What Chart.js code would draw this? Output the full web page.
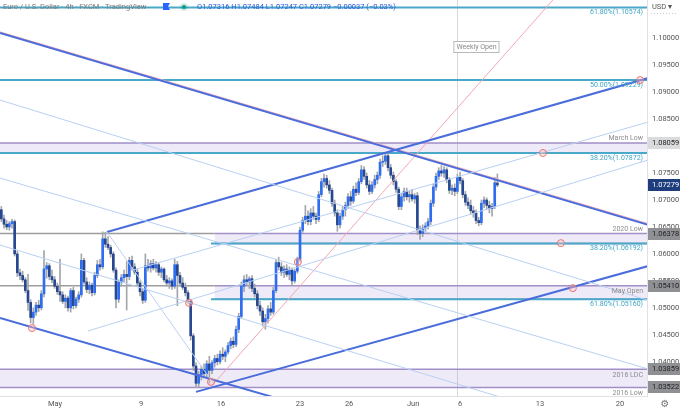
<!DOCTYPE html>
<html>
<head>
<meta charset="utf-8">
<script src="https://cdn.jsdelivr.net/npm/chart.js@4.4.0/dist/chart.umd.min.js"></script>
<style>
  html, body { margin: 0; padding: 0; background: #fff; }
  #wrap { width: 680px; height: 412px; position: relative; }
</style>
</head>
<body>
<div id="wrap"><canvas id="chart" width="680" height="412"></canvas></div>
<script>
// EUR/USD 4h candles (bar index = one 4h candle)
const opens = [
  1.0682, 1.0665, 1.0655, 1.0650, 1.0656, 1.0660, 1.0600, 1.0565, 1.0560, 1.0552,
  1.0532, 1.0510, 1.0482, 1.0492, 1.0505, 1.0500, 1.0526, 1.0572, 1.0578, 1.0558,
  1.0552, 1.0540, 1.0530, 1.0524, 1.0512, 1.0518, 1.0500, 1.0532, 1.0504, 1.0516,
  1.0524, 1.0588, 1.0548, 1.0534, 1.0542, 1.0528, 1.0560, 1.0580, 1.0576, 1.0628,
  1.0618, 1.0612, 1.0600, 1.0570, 1.0516, 1.0548, 1.0556, 1.0562, 1.0558, 1.0588,
  1.0576, 1.0566, 1.0546, 1.0530, 1.0514, 1.0578, 1.0574, 1.0582, 1.0574, 1.0580,
  1.0566, 1.0572, 1.0552, 1.0546, 1.0550, 1.0540, 1.0580, 1.0560, 1.0546, 1.0538,
  1.0528, 1.0512, 1.0448, 1.0392, 1.0360, 1.0376, 1.0386, 1.0378, 1.0396, 1.0384,
  1.0398, 1.0406, 1.0400, 1.0414, 1.0410, 1.0418, 1.0430, 1.0438, 1.0432, 1.0460,
  1.0484, 1.0540, 1.0552, 1.0548, 1.0554, 1.0536, 1.0526, 1.0504, 1.0494, 1.0474,
  1.0480, 1.0498, 1.0492, 1.0532, 1.0584, 1.0576, 1.0566, 1.0572, 1.0562, 1.0570,
  1.0550, 1.0568, 1.0590, 1.0644, 1.0662, 1.0670, 1.0660, 1.0676, 1.0670, 1.0664,
  1.0710, 1.0734, 1.0740, 1.0728, 1.0718, 1.0694, 1.0676, 1.0654, 1.0670, 1.0682,
  1.0690, 1.0706, 1.0698, 1.0720, 1.0714, 1.0734, 1.0756, 1.0744, 1.0728, 1.0716,
  1.0728, 1.0738, 1.0746, 1.0770, 1.0772, 1.0782, 1.0760, 1.0746, 1.0734, 1.0720,
  1.0688, 1.0706, 1.0716, 1.0706, 1.0710, 1.0702, 1.0708, 1.0644, 1.0638, 1.0648,
  1.0652, 1.0660, 1.0694, 1.0724, 1.0744, 1.0754, 1.0750, 1.0756, 1.0738, 1.0718,
  1.0722, 1.0716, 1.0742, 1.0736, 1.0710, 1.0696, 1.0690, 1.0680, 1.0676, 1.0662,
  1.0658, 1.0694, 1.0700, 1.0690, 1.0684, 1.0688, 1.07316
];
const highs = [
  1.0688, 1.0672, 1.0662, 1.0660, 1.0664, 1.0663, 1.0605, 1.0572, 1.0568, 1.0556,
  1.0562, 1.0515, 1.0500, 1.0510, 1.0514, 1.0532, 1.0606, 1.0584, 1.0582, 1.0570,
  1.0558, 1.0546, 1.0590, 1.0530, 1.0524, 1.0522, 1.0536, 1.0538, 1.0520, 1.0530,
  1.0600, 1.0592, 1.0556, 1.0548, 1.0546, 1.0566, 1.0588, 1.0590, 1.0641, 1.0640,
  1.0632, 1.0616, 1.0604, 1.0574, 1.0552, 1.0562, 1.0570, 1.0586, 1.0594, 1.0596,
  1.0582, 1.0572, 1.0550, 1.0536, 1.0600, 1.0590, 1.0588, 1.0590, 1.0586, 1.0584,
  1.0576, 1.0574, 1.0560, 1.0556, 1.0554, 1.0590, 1.0586, 1.0566, 1.0556, 1.0546,
  1.0532, 1.0516, 1.0452, 1.0398, 1.0382, 1.0392, 1.0396, 1.0402, 1.0410, 1.0402,
  1.0412, 1.0414, 1.0420, 1.0426, 1.0422, 1.0436, 1.0444, 1.0446, 1.0466, 1.0490,
  1.0548, 1.0560, 1.0562, 1.0558, 1.0560, 1.0544, 1.0532, 1.0512, 1.0500, 1.0488,
  1.0504, 1.0510, 1.0538, 1.0590, 1.0594, 1.0584, 1.0578, 1.0580, 1.0576, 1.0574,
  1.0572, 1.0594, 1.0650, 1.0668, 1.0690, 1.0680, 1.0684, 1.0688, 1.0676, 1.0716,
  1.0740, 1.0748, 1.0746, 1.0736, 1.0722, 1.0700, 1.0682, 1.0676, 1.0688, 1.0696,
  1.0712, 1.0716, 1.0726, 1.0732, 1.0740, 1.0764, 1.0762, 1.0750, 1.0736, 1.0734,
  1.0746, 1.0752, 1.0776, 1.0782, 1.0788, 1.0789, 1.0766, 1.0752, 1.0738, 1.0724,
  1.0712, 1.0722, 1.0722, 1.0716, 1.0720, 1.0712, 1.0714, 1.0652, 1.0654, 1.0658,
  1.0666, 1.0700, 1.0730, 1.0750, 1.0760, 1.0764, 1.0762, 1.0760, 1.0742, 1.0728,
  1.0730, 1.0748, 1.0752, 1.0740, 1.0716, 1.0704, 1.0700, 1.0688, 1.0682, 1.0668,
  1.0700, 1.0706, 1.0704, 1.0698, 1.0694, 1.0742, 1.07484
];
const lows = [
  1.0660, 1.0648, 1.0645, 1.0644, 1.0648, 1.0596, 1.0558, 1.0552, 1.0548, 1.0528,
  1.0495, 1.0472, 1.0470, 1.0486, 1.0493, 1.0496, 1.0520, 1.0555, 1.0552, 1.0546,
  1.0536, 1.0525, 1.0512, 1.0508, 1.0500, 1.0494, 1.0492, 1.0498, 1.0500, 1.0510,
  1.0520, 1.0544, 1.0528, 1.0526, 1.0522, 1.0524, 1.0556, 1.0570, 1.0572, 1.0612,
  1.0608, 1.0594, 1.0566, 1.0500, 1.0510, 1.0540, 1.0548, 1.0496, 1.0552, 1.0570,
  1.0562, 1.0540, 1.0522, 1.0508, 1.0510, 1.0568, 1.0566, 1.0570, 1.0566, 1.0560,
  1.0556, 1.0548, 1.0540, 1.0536, 1.0534, 1.0536, 1.0504, 1.0540, 1.0534, 1.0522,
  1.0508, 1.0440, 1.0384, 1.0352, 1.0354, 1.0366, 1.0370, 1.0372, 1.0360, 1.0378,
  1.0390, 1.0394, 1.0396, 1.0404, 1.0400, 1.0414, 1.0424, 1.0426, 1.0428, 1.0454,
  1.0480, 1.0530, 1.0542, 1.0536, 1.0530, 1.0520, 1.0498, 1.0486, 1.0466, 1.0460,
  1.0472, 1.0486, 1.0488, 1.0528, 1.0570, 1.0560, 1.0556, 1.0558, 1.0552, 1.0542,
  1.0546, 1.0564, 1.0586, 1.0640, 1.0656, 1.0654, 1.0654, 1.0664, 1.0656, 1.0660,
  1.0706, 1.0724, 1.0722, 1.0712, 1.0688, 1.0670, 1.0642, 1.0648, 1.0664, 1.0670,
  1.0684, 1.0690, 1.0694, 1.0708, 1.0710, 1.0730, 1.0738, 1.0722, 1.0710, 1.0712,
  1.0722, 1.0730, 1.0740, 1.0762, 1.0766, 1.0754, 1.0740, 1.0728, 1.0714, 1.0682,
  1.0682, 1.0698, 1.0700, 1.0696, 1.0698, 1.0694, 1.0636, 1.0627, 1.0632, 1.0640,
  1.0646, 1.0654, 1.0688, 1.0718, 1.0738, 1.0744, 1.0742, 1.0732, 1.0712, 1.0710,
  1.0708, 1.0712, 1.0730, 1.0704, 1.0690, 1.0684, 1.0674, 1.0668, 1.0656, 1.0652,
  1.0654, 1.0686, 1.0682, 1.0676, 1.0670, 1.0684, 1.07247
];
const closes = [
  1.0665, 1.0655, 1.0650, 1.0656, 1.0660, 1.0600, 1.0565, 1.0560, 1.0552, 1.0532,
  1.0510, 1.0482, 1.0492, 1.0505, 1.0500, 1.0526, 1.0572, 1.0578, 1.0558, 1.0552,
  1.0540, 1.0530, 1.0524, 1.0512, 1.0518, 1.0500, 1.0532, 1.0504, 1.0516, 1.0524,
  1.0588, 1.0548, 1.0534, 1.0542, 1.0528, 1.0560, 1.0580, 1.0576, 1.0628, 1.0618,
  1.0612, 1.0600, 1.0570, 1.0516, 1.0548, 1.0556, 1.0562, 1.0558, 1.0588, 1.0576,
  1.0566, 1.0546, 1.0530, 1.0514, 1.0578, 1.0574, 1.0582, 1.0574, 1.0580, 1.0566,
  1.0572, 1.0552, 1.0546, 1.0550, 1.0540, 1.0580, 1.0560, 1.0546, 1.0538, 1.0528,
  1.0512, 1.0448, 1.0392, 1.0360, 1.0376, 1.0386, 1.0378, 1.0396, 1.0384, 1.0398,
  1.0406, 1.0400, 1.0414, 1.0410, 1.0418, 1.0430, 1.0438, 1.0432, 1.0460, 1.0484,
  1.0540, 1.0552, 1.0548, 1.0554, 1.0536, 1.0526, 1.0504, 1.0494, 1.0474, 1.0480,
  1.0498, 1.0492, 1.0532, 1.0584, 1.0576, 1.0566, 1.0572, 1.0562, 1.0570, 1.0550,
  1.0568, 1.0590, 1.0644, 1.0662, 1.0670, 1.0660, 1.0676, 1.0670, 1.0664, 1.0710,
  1.0734, 1.0740, 1.0728, 1.0718, 1.0694, 1.0676, 1.0654, 1.0670, 1.0682, 1.0690,
  1.0706, 1.0698, 1.0720, 1.0714, 1.0734, 1.0756, 1.0744, 1.0728, 1.0716, 1.0728,
  1.0738, 1.0746, 1.0770, 1.0772, 1.0782, 1.0760, 1.0746, 1.0734, 1.0720, 1.0688,
  1.0706, 1.0716, 1.0706, 1.0710, 1.0702, 1.0708, 1.0644, 1.0638, 1.0648, 1.0652,
  1.0660, 1.0694, 1.0724, 1.0744, 1.0754, 1.0750, 1.0756, 1.0738, 1.0718, 1.0722,
  1.0716, 1.0742, 1.0736, 1.0710, 1.0696, 1.0690, 1.0680, 1.0676, 1.0662, 1.0658,
  1.0694, 1.0700, 1.0690, 1.0684, 1.0688, 1.0732, 1.07279
];

// axes
const xTickPos = [20.1, 52.4, 82.4, 112.0, 130.4, 154.4, 172.0, 202.0, 232.0];
const xTickLabels = ["May", "9", "16", "23", "26", "Jun", "6", "13", "20"];
const priceTicks = [1.040, 1.045, 1.050, 1.055, 1.060, 1.065, 1.070, 1.075, 1.080, 1.085, 1.090, 1.095, 1.100];
const X_MIN = -0.5, X_MAX = 242.1, Y_MIN = 1.03364, Y_MAX = 1.10711;

// horizontal levels
const fibPrices = [1.10574, 1.09229, 1.07872, 1.06192, 1.05160];
const fibLabels = ["61.80%(1.10574)", "50.00%(1.09229)", "38.20%(1.07872)", "38.20%(1.06192)", "61.80%(1.05160)"];
const fibFrom = [-0.5, -0.5, -0.5, 78.6, 78.6];

const zoneTops = [1.08059, 1.06378, 1.05410, 1.03859];
const zoneBottoms = [1.07872, 1.06192, 1.05160, 1.03522];
const zoneFrom = [-0.5, 80.0, 80.0, -0.5];
const zoneNames = ["March Low", "2020 Low", "May Open", "2016 LDC"];

const grayPrices = [1.06378, 1.05410];
const grayTo = [80.0, 80.0];

// trend lines: [x1, price1, x2, price2]
const heavyLines = [
  [-0.5, 1.10098, 242.5, 1.06540],
  [39.6, 1.06406, 242.5, 1.09263],
  [-0.5, 1.04811, 120.0, 1.03083],
  [73.0, 1.03440, 242.5, 1.05775]
];
const pinkLines = [
  [-0.5, 1.10120, 242.5, 1.06562],
  [78.2, 1.03512, 206.8, 1.10711]
];
const lightLines = [
  [-0.5, 1.08855, 242.5, 1.05139],
  [-0.5, 1.07408, 242.5, 1.03865],
  [-0.5, 1.06165, 190.0, 1.03300],
  [32.5, 1.04570, 242.5, 1.07742],
  [49.4, 1.05701, 242.5, 1.08447],
  [39.6, 1.06406, 79.4, 1.03605]
];

const circleX = [11.5, 70.4, 78.6, 111.2, 203.1, 239.5, 209.8, 214.3];
const circleP = [1.04625, 1.05091, 1.03625, 1.05851, 1.07873, 1.09226, 1.06200, 1.05365];

const weeklyOpenBar = 171;
const axisMarks = [1.08059, 1.07279, 1.06378, 1.05410, 1.03859, 1.03522];

const UP = "#2e6cf0", DOWN = "#27478f", WICK = "#a3a6ad";
const FONT = "Roboto, 'Liberation Sans', sans-serif";

const bodyData = opens.map((o, i) => ({ x: i, y: [o, closes[i]] }));
const wickData = highs.map((h, i) => ({ x: i, y: [lows[i], h] }));
const bodyColors = opens.map((o, i) => closes[i] >= o ? UP : DOWN);

function seg(arr, color, width) {
  return arr.map(l => ({
    type: "line",
    data: [{ x: l[0], y: l[1] }, { x: l[2], y: l[3] }],
    borderColor: color, borderWidth: width, pointRadius: 0, fill: false, order: 1
  }));
}

const drawings = {
  id: "drawings",
  beforeDatasetsDraw(chart) {
    const { ctx, chartArea: a, scales: { x, y } } = chart;
    ctx.save();
    ctx.beginPath(); ctx.rect(a.left, a.top, a.right - a.left, a.bottom - a.top); ctx.clip();
    // weekly open separator
    const wx = Math.round(x.getPixelForValue(weeklyOpenBar)) + 0.5;
    ctx.strokeStyle = "#d6d8de"; ctx.lineWidth = 1;
    ctx.beginPath(); ctx.moveTo(wx, a.top); ctx.lineTo(wx, a.bottom); ctx.stroke();
    // zones
    zoneTops.forEach((t, i) => {
      const x0 = x.getPixelForValue(zoneFrom[i]);
      const y0 = y.getPixelForValue(t), y1 = y.getPixelForValue(zoneBottoms[i]);
      ctx.fillStyle = "rgba(149,125,205,0.16)";
      ctx.fillRect(x0, y0, a.right - x0, y1 - y0);
      ctx.strokeStyle = "#a08fc8"; ctx.lineWidth = 1.5;
      ctx.beginPath(); ctx.moveTo(x0, y0); ctx.lineTo(a.right, y0);
      ctx.moveTo(x0, y1); ctx.lineTo(a.right, y1); ctx.stroke();
    });
    // gray levels
    grayPrices.forEach((p, i) => {
      const yy = y.getPixelForValue(p);
      ctx.strokeStyle = "#9d9d9d"; ctx.lineWidth = 1.5;
      ctx.beginPath(); ctx.moveTo(a.left, yy); ctx.lineTo(x.getPixelForValue(grayTo[i]), yy); ctx.stroke();
    });
    // fib levels
    fibPrices.forEach((p, i) => {
      const yy = y.getPixelForValue(p);
      ctx.strokeStyle = "#4aa8c8"; ctx.lineWidth = 2;
      ctx.beginPath(); ctx.moveTo(x.getPixelForValue(fibFrom[i]), yy); ctx.lineTo(a.right, yy); ctx.stroke();
    });
    ctx.restore();
  },
  afterDatasetsDraw(chart) {
    const { ctx, chartArea: a, scales: { x, y } } = chart;
    ctx.save();
    ctx.font = "7px " + FONT;
    ctx.textAlign = "right";
    // fib labels
    ctx.fillStyle = "#3fa3c4"; ctx.textBaseline = "top";
    fibPrices.forEach((p, i) => ctx.fillText(fibLabels[i], a.right - 4, y.getPixelForValue(p) + 1.5));
    // zone labels
    ctx.fillStyle = "#8c8c8c";
    zoneNames.forEach((n, i) => {
      const t = y.getPixelForValue(zoneTops[i]);
      if (i < 2) { ctx.textBaseline = "bottom"; ctx.fillText(n, a.right - 4, t - 1); }
      else { ctx.textBaseline = "middle"; ctx.fillText(n, a.right - 4, t + 6); }
    });
    ctx.textBaseline = "middle";
    ctx.fillText("2016 Low", a.right - 4, y.getPixelForValue(zoneBottoms[3]) + 6);
    // circles
    ctx.strokeStyle = "#ee7272"; ctx.lineWidth = 1;
    circleX.forEach((cx, i) => {
      ctx.beginPath();
      ctx.arc(x.getPixelForValue(cx), y.getPixelForValue(circleP[i]), 3.5, 0, Math.PI * 2);
      ctx.fillStyle = "rgba(255,200,200,0.35)"; ctx.fill(); ctx.stroke();
    });
    // weekly open tag
    const wx = x.getPixelForValue(weeklyOpenBar);
    ctx.font = "7px " + FONT;
    const tw = ctx.measureText("Weekly Open").width;
    ctx.fillStyle = "#fff"; ctx.fillRect(wx - 4, 41, tw + 6, 12);
    ctx.strokeStyle = "#b9b9b9"; ctx.strokeRect(wx - 3.5, 41.5, tw + 5, 11);
    ctx.fillStyle = "#8a8a8a"; ctx.textAlign = "left"; ctx.textBaseline = "middle";
    ctx.fillText("Weekly Open", wx - 1, 47.5);
    ctx.restore();
  },
  afterDraw(chart) {
    const { ctx, chartArea: a, scales: { y } } = chart;
    ctx.save();
    // price tags on the right axis
    ctx.font = "7.5px " + FONT; ctx.textBaseline = "middle"; ctx.textAlign = "left";
    axisMarks.forEach((p, i) => {
      const yy = Math.round(y.getPixelForValue(p));
      ctx.fillStyle = i === 0 ? "#dadbdd" : i === 1 ? "#1d3d7c" : "#8f9094";
      ctx.fillRect(a.right + 1, yy - 6, 680 - a.right - 1, 12);
      ctx.fillStyle = i === 1 ? "#fff" : "#222";
      ctx.fillText(p.toFixed(5), a.right + 5, yy + 0.5);
    });
    // header
    ctx.font = "7.5px " + FONT; ctx.fillStyle = "#7b7b7b";
    ctx.fillText("Euro / U.S. Dollar \u00b7 4h \u00b7 FXCM \u00b7 TradingView", 3, 7);
    ctx.fillStyle = "#2962ff";
    ctx.beginPath(); ctx.moveTo(163, 3); ctx.lineTo(170, 3); ctx.lineTo(168, 6.5); ctx.lineTo(170, 10); ctx.lineTo(163, 10); ctx.closePath(); ctx.fill();
    ctx.fillStyle = "rgba(8,153,129,0.18)"; ctx.beginPath(); ctx.arc(184, 7, 4, 0, Math.PI * 2); ctx.fill();
    ctx.fillStyle = "#089981"; ctx.beginPath(); ctx.arc(184, 7, 2, 0, Math.PI * 2); ctx.fill();
    ctx.fillStyle = "#2a5bd7";
    ctx.fillText("O1.07316 H1.07484 L1.07247 C1.07279 \u22120.00037 (\u22120.03%)", 197, 7);
    // axis corner bits
    ctx.fillStyle = "#555"; ctx.font = "7.5px " + FONT;
    ctx.fillText("USD \u25be", a.right + 5, 7);
    ctx.strokeStyle = "#c8c8c8"; ctx.setLineDash([1, 2]); ctx.lineWidth = 1;
    ctx.beginPath(); ctx.moveTo(a.right + 4, 13.5); ctx.lineTo(678, 13.5); ctx.stroke();
    ctx.setLineDash([]);
    ctx.fillStyle = "#777"; ctx.font = "10px 'DejaVu Sans'"; ctx.textAlign = "center";
    ctx.fillText("\u2699", 665, 404);
    ctx.restore();
  }
};

new Chart(document.getElementById("chart"), {
  type: "bar",
  data: {
    datasets: [
      { type: "bar", data: wickData, backgroundColor: WICK, barThickness: 1, grouped: false, order: 11 },
      { type: "bar", data: bodyData, backgroundColor: bodyColors, barThickness: 2, minBarLength: 1, grouped: false, order: 10 },
      ...seg(lightLines, "#b8d0f2", 1),
      ...seg(heavyLines, "#4a6ddb", 2),
      ...seg(pinkLines, "#f3a7b2", 1)
    ]
  },
  options: {
    responsive: false,
    animation: false,
    devicePixelRatio: 1,
    layout: { padding: 0 },
    plugins: { legend: { display: false }, tooltip: { enabled: false } },
    scales: {
      x: {
        type: "linear", min: X_MIN, max: X_MAX, offset: false,
        grid: { display: false, drawTicks: false, offset: false },
        border: { display: true, color: "#dfe1e6" },
        afterFit(s) { s.height = 16; s.paddingLeft = 0; s.paddingRight = 0; },
        afterBuildTicks(s) { s.ticks = xTickPos.map(v => ({ value: v })); },
        ticks: { callback: (v, i) => xTickLabels[i], color: "#555", font: { size: 7.5, family: FONT }, padding: 4, maxRotation: 0, autoSkip: false }
      },
      y: {
        position: "right", min: Y_MIN, max: Y_MAX,
        grid: { display: false, drawTicks: false },
        border: { display: true, color: "#dfe1e6" },
        afterFit(s) { s.width = 33; s.paddingTop = 0; s.paddingBottom = 0; },
        afterBuildTicks(s) { s.ticks = priceTicks.map(v => ({ value: v })); },
        ticks: { callback: v => v.toFixed(5), color: "#555", font: { size: 7.5, family: FONT }, padding: 5 }
      }
    }
  },
  plugins: [drawings]
});
</script>
</body>
</html>
